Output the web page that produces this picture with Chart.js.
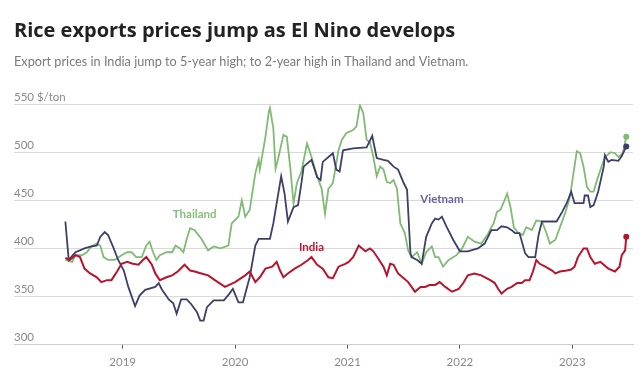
<!DOCTYPE html>
<html>
<head>
<meta charset="utf-8">
<script src="https://cdn.jsdelivr.net/npm/chart.js@4"></script>
<style>
  html, body { margin: 0; padding: 0; background: #fff; }
  #wrap { width: 640px; height: 383px; position: relative; }
</style>
</head>
<body>
<div id="wrap"><canvas id="c" width="640" height="383"></canvas></div>
<script>
// ---- Data (decimal years, US$ per tonne) ----
const yearTicks = [2019, 2020, 2021, 2022, 2023];
const priceTicks = [300, 350, 400, 450, 500, 550];

const thailandDates = [
  2018.49, 2018.55, 2018.58, 2018.64, 2018.68, 2018.72, 2018.77, 2018.80, 2018.83, 2018.87, 2018.93, 2018.99,
  2019.04, 2019.08, 2019.12, 2019.17, 2019.21, 2019.24, 2019.27, 2019.30, 2019.33, 2019.39, 2019.44, 2019.47,
  2019.51, 2019.54, 2019.57, 2019.60, 2019.64, 2019.70, 2019.76, 2019.81, 2019.87, 2019.94, 2019.97,
  2020.03, 2020.06, 2020.09, 2020.13, 2020.18, 2020.21, 2020.22, 2020.27, 2020.30, 2020.31, 2020.34, 2020.36,
  2020.38, 2020.43, 2020.46, 2020.49, 2020.52, 2020.55, 2020.59, 2020.64, 2020.68, 2020.73, 2020.77, 2020.80,
  2020.83, 2020.87, 2020.92, 2020.95, 2020.99,
  2021.05, 2021.08, 2021.11, 2021.14, 2021.17, 2021.20, 2021.23, 2021.26, 2021.29, 2021.32, 2021.35, 2021.38,
  2021.41, 2021.44, 2021.45, 2021.47, 2021.51, 2021.54, 2021.57, 2021.62, 2021.66, 2021.70, 2021.75, 2021.78,
  2021.81, 2021.85, 2021.90, 2021.97,
  2022.02, 2022.07, 2022.13, 2022.19, 2022.25, 2022.28, 2022.30, 2022.33, 2022.36, 2022.39, 2022.42, 2022.45,
  2022.48, 2022.52, 2022.56, 2022.59, 2022.64, 2022.68, 2022.73, 2022.77, 2022.80, 2022.85, 2022.89, 2022.94, 2022.98,
  2023.01, 2023.04, 2023.07, 2023.10, 2023.13, 2023.16, 2023.19, 2023.22, 2023.26, 2023.29, 2023.34, 2023.38,
  2023.41, 2023.45, 2023.48
];
const thailandPrices = [
  388, 386, 393, 393, 396, 402, 405, 403, 391, 388, 388, 393,
  396, 396, 391, 391, 403, 407, 396, 388, 393, 396, 396, 403,
  400, 396, 410, 421, 419, 410, 398, 402, 400, 403, 426,
  433, 450, 433, 440, 478, 492, 482, 516, 542, 546, 525, 483,
  492, 518, 516, 485, 447, 468, 480, 509, 495, 475, 462, 436,
  462, 468, 502, 513, 520,
  523, 527, 549, 541, 513, 510, 495, 475, 485, 482, 469, 468,
  471, 462, 450, 426, 416, 398, 391, 396, 384, 396, 402, 391,
  391, 381, 388, 393,
  400, 412, 407, 405, 415, 422, 426, 438, 440, 448, 457, 443,
  422, 416, 414, 422, 419, 429, 428, 416, 405, 409, 422, 438, 454,
  478, 501, 499, 485, 464, 459, 459, 471, 485, 495, 500, 499,
  495, 499, 516
];

const vietnamDates = [
  2018.49, 2018.52, 2018.58, 2018.66, 2018.72, 2018.77, 2018.80, 2018.84, 2018.87, 2018.92, 2018.96,
  2019.01, 2019.05, 2019.11, 2019.15, 2019.20, 2019.29, 2019.32, 2019.35, 2019.41, 2019.45, 2019.48,
  2019.52, 2019.57, 2019.61, 2019.66, 2019.69, 2019.72, 2019.75, 2019.81, 2019.90, 2019.95, 2019.98,
  2020.03, 2020.07, 2020.10, 2020.13, 2020.18, 2020.21, 2020.31, 2020.34, 2020.38, 2020.41, 2020.44, 2020.47,
  2020.52, 2020.56, 2020.59, 2020.61, 2020.68, 2020.73, 2020.76, 2020.78, 2020.87, 2020.90, 2020.93, 2020.96,
  2021.05, 2021.17, 2021.22, 2021.26, 2021.32, 2021.36, 2021.41, 2021.45, 2021.50, 2021.53, 2021.56,
  2021.57, 2021.62, 2021.66, 2021.70, 2021.75, 2021.78, 2021.81, 2021.84, 2021.88, 2021.94,
  2022.00, 2022.07, 2022.16, 2022.22, 2022.28, 2022.33, 2022.37, 2022.42, 2022.46, 2022.49, 2022.53,
  2022.58, 2022.61, 2022.67, 2022.70, 2022.73, 2022.86, 2022.91, 2022.95, 2022.99,
  2023.02, 2023.10, 2023.11, 2023.14, 2023.16, 2023.19, 2023.23, 2023.28, 2023.29, 2023.32, 2023.35,
  2023.41, 2023.44, 2023.48
];
const vietnamPrices = [
  428, 388, 396, 400, 402, 403, 412, 417, 414, 400, 388,
  377, 360, 340, 351, 357, 360, 364, 357, 347, 343, 332,
  347, 347, 342, 334, 325, 325, 339, 346, 346, 353, 358,
  344, 344, 357, 370, 403, 410, 410, 426, 454, 475, 457, 428,
  443, 445, 468, 485, 492, 474, 471, 490, 499, 482, 480, 502,
  504, 505, 517, 494, 492, 491, 485, 482, 468, 461, 395,
  391, 388, 384, 412, 426, 431, 430, 433, 423, 409,
  397, 397, 400, 405, 419, 419, 423, 422, 419, 416, 416,
  395, 391, 391, 414, 428, 428, 438, 447, 459,
  447, 447, 455, 455, 443, 445, 459, 485, 497, 490, 492,
  491, 496, 506
];

const indiaDates = [
  2018.49, 2018.53, 2018.58, 2018.62, 2018.66, 2018.71, 2018.77, 2018.81, 2018.86, 2018.90, 2018.95, 2018.99,
  2019.04, 2019.09, 2019.14, 2019.18, 2019.21, 2019.26, 2019.29, 2019.33, 2019.39, 2019.44, 2019.49, 2019.55,
  2019.60, 2019.64, 2019.70, 2019.76, 2019.82, 2019.91,
  2020.00, 2020.09, 2020.13, 2020.18, 2020.22, 2020.27, 2020.33, 2020.37, 2020.40, 2020.43, 2020.47, 2020.53,
  2020.59, 2020.65, 2020.68, 2020.73, 2020.78, 2020.83, 2020.87, 2020.92, 2020.98,
  2021.01, 2021.05, 2021.10, 2021.13, 2021.16, 2021.20, 2021.23, 2021.27, 2021.32, 2021.35, 2021.38, 2021.41,
  2021.45, 2021.50, 2021.54, 2021.60, 2021.65, 2021.69, 2021.73, 2021.78, 2021.82, 2021.87, 2021.93, 2021.99,
  2022.03, 2022.07, 2022.13, 2022.19, 2022.27, 2022.31, 2022.34, 2022.37, 2022.42, 2022.46, 2022.51, 2022.55,
  2022.58, 2022.62, 2022.65, 2022.68, 2022.71, 2022.76, 2022.82, 2022.85, 2022.89, 2022.95, 2022.99,
  2023.02, 2023.05, 2023.10, 2023.13, 2023.16, 2023.20, 2023.25, 2023.28, 2023.32, 2023.38, 2023.42, 2023.44,
  2023.47, 2023.48
];
const indiaPrices = [
  390, 388, 393, 391, 379, 374, 370, 365, 367, 367, 376, 384,
  386, 384, 383, 388, 391, 383, 374, 367, 370, 372, 376, 383,
  377, 376, 374, 372, 367, 360,
  365, 372, 376, 365, 370, 379, 381, 386, 377, 370, 374, 379,
  383, 388, 391, 383, 379, 370, 369, 381, 384,
  386, 391, 403, 400, 397, 400, 397, 390, 381, 372, 384, 383,
  374, 369, 365, 355, 360, 360, 362, 362, 365, 360, 355, 358,
  364, 372, 374, 372, 367, 364, 358, 353, 358, 360, 364, 364,
  367, 367, 376, 388, 384, 381, 377, 374, 376, 377, 378,
  381, 391, 400, 400, 391, 384, 386, 383, 379, 376, 381, 393,
  398, 412
];

const seriesNames = ['Thailand', 'Vietnam', 'India'];
const seriesColors = ['#80bb73', '#3c3f6a', '#b8142e'];
const labelColors = ['#86c07a', '#6b63a6', '#c8102e'];
// label anchor positions, in data units [year, price]
const labelYears = [2019.64, 2021.84, 2020.68];
const labelPrices = [435, 451, 401];

function pairs(xs, ys) { return xs.map((x, i) => ({ x: x, y: ys[i] })); }

const allDates = [thailandDates, vietnamDates, indiaDates];
const allPrices = [thailandPrices, vietnamPrices, indiaPrices];

const datasets = seriesNames.map((name, k) => ({
  label: name,
  data: pairs(allDates[k], allPrices[k]),
  borderColor: seriesColors[k],
  backgroundColor: seriesColors[k],
  borderWidth: k === 2 ? 2 : 1.8,
  tension: 0,
  pointRadius: ctx => (ctx.dataIndex === allDates[k].length - 1 ? 3 : 0),
  pointHoverRadius: 0,
  pointBorderWidth: 0,
  order: k === 0 ? 3 : (k === 1 ? 2 : 1)
}));

const seriesLabelPlugin = {
  id: 'seriesLabels',
  afterDatasetsDraw(chart) {
    const { ctx, scales } = chart;
    ctx.save();
    ctx.font = 'bold 11.5px Lato, sans-serif';
    ctx.textAlign = 'center';
    ctx.textBaseline = 'middle';
    seriesNames.forEach((name, k) => {
      ctx.fillStyle = labelColors[k];
      ctx.fillText(name, scales.x.getPixelForValue(labelYears[k]), scales.y.getPixelForValue(labelPrices[k]));
    });
    ctx.restore();
  }
};

new Chart(document.getElementById('c'), {
  type: 'line',
  data: { datasets },
  plugins: [seriesLabelPlugin],
  options: {
    responsive: false,
    animation: false,
    events: [],
    layout: { padding: { left: 14, right: 7, top: 14, bottom: 7 } },
    plugins: {
      legend: { display: false },
      tooltip: { enabled: false },
      title: {
        display: true,
        text: 'Rice exports prices jump as El Nino develops',
        align: 'start',
        color: '#222222',
        font: { family: 'Open Sans', size: 20, weight: 'bold' },
        padding: { top: 5, bottom: 11.4 }
      },
      subtitle: {
        display: true,
        text: 'Export prices in India jump to 5-year high; to 2-year high in Thailand and Vietnam.',
        align: 'start',
        color: '#7a7a7a',
        font: { family: 'Lato', size: 12.7 },
        padding: { top: 0, bottom: 34.5 }
      }
    },
    scales: {
      x: {
        type: 'linear',
        min: 2018.033,
        max: 2023.54,
        afterBuildTicks: s => { s.ticks = yearTicks.map(v => ({ value: v })); },
        grid: { display: true, drawOnChartArea: false, drawTicks: true, tickLength: 4, color: '#555', lineWidth: 1 },
        border: { display: true, color: '#cfcfcf', width: 1 },
        ticks: {
          color: '#8a8a8a',
          font: { family: 'Lato', size: 11.5 },
          padding: 6.8,
          maxRotation: 0,
          callback: v => String(v)
        }
      },
      y: {
        type: 'linear',
        min: 300,
        max: 550,
        afterBuildTicks: s => { s.ticks = priceTicks.map(v => ({ value: v })); },
        grid: { color: '#d9d9d9', lineWidth: 1, drawTicks: false },
        border: { display: false },
        ticks: {
          mirror: true,
          padding: 0,
          labelOffset: -7,
          color: '#8a8a8a',
          font: { family: 'Lato', size: 11.5 },
          callback: v => (v === 550 ? '550 $/ton' : String(v))
        }
      }
    }
  }
});
</script>
</body>
</html>
